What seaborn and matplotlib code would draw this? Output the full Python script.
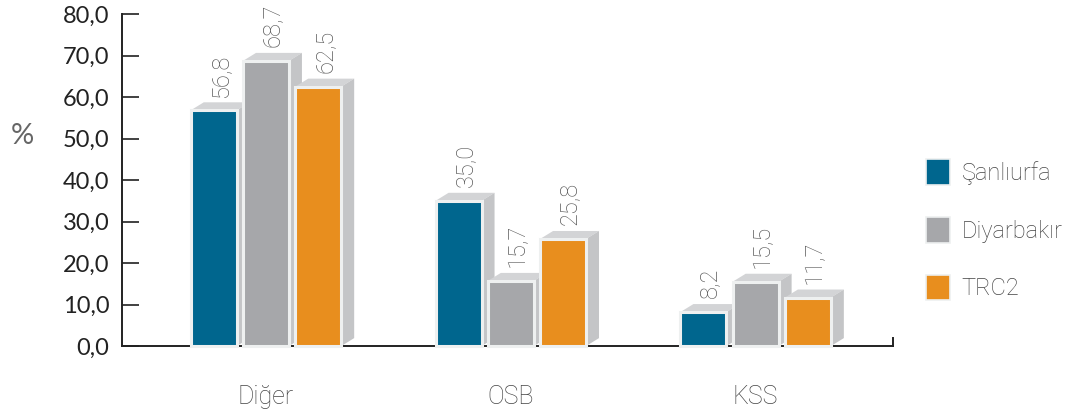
import matplotlib
matplotlib.use('Agg')
import matplotlib.pyplot as plt
import pandas as pd
import seaborn as sns
from matplotlib.patches import Polygon, Patch

# Data
kategoriler = ['Diğer', 'OSB', 'KSS']
seriler = ['Şanlıurfa', 'Diyarbakır', 'TRC2']
sanliurfa = [56.8, 35.0, 8.2]
diyarbakir = [68.7, 15.7, 15.5]
trc2 = [62.5, 25.8, 11.7]
y_ticks = [0, 10, 20, 30, 40, 50, 60, 70, 80]

renkler = ['#00668E', '#A6A7AA', '#E88E1E']

df = pd.DataFrame({
    'kategori': kategoriler * 3,
    'seri': [seriler[0]] * 3 + [seriler[1]] * 3 + [seriler[2]] * 3,
    'deger': sanliurfa + diyarbakir + trc2,
})

sns.set_style('white')
plt.rcParams['font.family'] = ['Roboto', 'DejaVu Sans']
plt.rcParams['font.weight'] = 'light'

fig = plt.figure(figsize=(10.73, 4.19), dpi=100)
ax = fig.add_axes([0.1137, 0.174, 0.832 - 0.1137, 0.9666 - 0.174])

sns.barplot(data=df, x='kategori', y='deger', hue='seri', order=kategoriler,
            hue_order=seriler, palette=renkler, saturation=1, width=0.64, gap=0.12,
            ax=ax, legend=False, edgecolor='#EEF0F0', linewidth=2.2)

ax.set_xlim(-0.588, 2.56)
ax.set_ylim(0, 80)

# derinlik (3B efekti) piksel -> veri birimi
p0 = ax.transData.transform((0, 0))
ddx, ddy = ax.transData.inverted().transform(p0 + [13, 8])

# hue sirasina gore: once Sanliurfa, sonra Diyarbakir, sonra TRC2
bars = list(ax.patches)
for i, bar in enumerate(bars):
    z = 3 + i // 3 * 0.1 + (i % 3) * 0.01
    x0 = bar.get_x()
    w = bar.get_width()
    h = bar.get_height()
    x1 = x0 + w
    top = Polygon([(x0, h), (x1, h), (x1 + ddx, h + ddy), (x0 + ddx, h + ddy)],
                  closed=True, facecolor='#D3D4D6', edgecolor='none', zorder=z, clip_on=False)
    side = Polygon([(x1, 0), (x1, h), (x1 + ddx, h + ddy), (x1 + ddx, ddy)],
                   closed=True, facecolor='#C4C5C7', edgecolor='none', zorder=z, clip_on=False)
    ax.add_patch(top)
    ax.add_patch(side)
    bar.set_zorder(z + 0.001)
    bar.set_clip_on(False)
    lbl = f'{h:.1f}'.replace('.', ',')
    ax.annotate(lbl, (x0 + w / 2 + ddx / 2, h + ddy), xytext=(0, 4),
                textcoords='offset points', rotation=90, ha='center', va='bottom',
                fontsize=17, color='#5a5a5a', zorder=10)

# eksenler
for s in ['top', 'left', 'right', 'bottom']:
    ax.spines[s].set_visible(False)
ax.spines['left'].set_visible(True)
ax.spines['bottom'].set_visible(True)
ax.spines['right'].set_visible(True)
ax.spines['right'].set_bounds(0, 2)
for s in ['left', 'bottom', 'right']:
    ax.spines[s].set_color('#222222')
    ax.spines[s].set_linewidth(1.4)
    ax.spines[s].set_zorder(2)

ax.set_yticks(y_ticks)
ax.set_yticklabels([f'{t:.1f}'.replace('.', ',') for t in y_ticks],
                   fontfamily=['Lato', 'DejaVu Sans'], fontweight='normal',
                   fontsize=17, color='#222222')
ax.tick_params(axis='y', direction='in', length=12, width=1.3, color='#333333', pad=9, left=True)
ax.tick_params(axis='x', length=0, pad=28, labelsize=18, labelcolor='#444444')
ax.set_xlabel('')
ax.set_ylabel('')

fig.text(0.0205, 0.675, '%', fontsize=21, color='#666666', ha='center', va='center',
         fontfamily=['Lato', 'DejaVu Sans'], fontweight='normal')

handles = [Patch(facecolor=c, edgecolor='#EEF0F0', linewidth=1.2) for c in renkler]
fig.legend(handles, seriler, loc='upper left', bbox_to_anchor=(0.852, 0.648),
           frameon=False, fontsize=17, labelcolor='#444444', handlelength=1.0,
           handleheight=1.3, handletextpad=0.5, labelspacing=1.35, borderpad=0)

fig.savefig('out.png', dpi=100, facecolor='white')
